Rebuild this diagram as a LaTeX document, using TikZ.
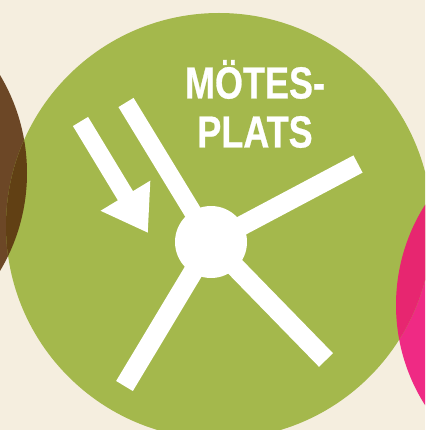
\documentclass[tikz,border=0pt]{standalone}
\usepackage{fontspec}
\setmainfont{Liberation Sans}
\newfontfamily\platsfont[FakeStretch=0.8, BoldFeatures={FakeBold=0.6}]{Liberation Sans}
\usepackage{xcolor}
\usetikzlibrary{arrows.meta}
\definecolor{paper}{HTML}{F5EEDF}
\definecolor{platsgreen}{HTML}{A4B84C}
\definecolor{brownlight}{HTML}{6C4726}
\definecolor{browndark}{HTML}{614014}
\definecolor{pinklight}{HTML}{EF2A84}
\definecolor{pinkdark}{HTML}{E72670}
\tikzset{
	disc/.style={
		circle,
		inner sep=0pt,
		minimum size=#1
	},
	bar/.style={
		white,
		line width=19.5pt
	},
	thinbar/.style={
		white,
		line width=17.7pt
	}
}

\begin{document}
\begin{tikzpicture}[x=1pt, y=-1pt]
		\useasboundingbox (0,0) rectangle (425,430);
		\clip (0,0) rectangle (425,430);
		\fill[paper] (0,0) rectangle (425,430);
		
		% Les disques
		\node[disc=382pt, fill=brownlight] (brown) at (-164,173) {};
		\node[disc=374pt, fill=pinklight] (pink) at (583,305) {};
		\node[disc=426pt, fill=platsgreen] (plats) at (219,226) {};
		
		% Recouvrements
		\begin{scope}
			\clip (219,226) circle (213);
			\node[disc=382pt, fill=browndark] (brownover) at (-164,173) {};
			\node[disc=374pt, fill=pinkdark] (pinkover) at (583,305) {};
		\end{scope}
		
		%--- Les branches ---
		\node[disc=72pt, fill=white] (hub) at (211,242) {};
		\coordinate (B1) at (126,102.5);
		\coordinate (B2) at (358,164);
		\coordinate (B3) at (124.5,386);
		\coordinate (B4) at (326,360);
		\draw[thinbar] (hub.center) -- (B1);
		\draw[bar] (hub.center) -- (B2);
		\draw[bar] (hub.center) -- (B3);
		\draw[bar] (hub.center) -- (B4);
		
		%--- La fleche ---
		\coordinate (A1) at (80.5,121.5);
		\coordinate (A2) at (148,233);
		\draw[thinbar, -{Triangle[length=43.6pt, width=55pt]}] (A1) -- (A2);
		
		% Le texte
		\node[white, font=\platsfont\fontsize{45}{49}\selectfont\bfseries, align=center, inner sep=0pt] (title) at (255,104) {MÖTES-\\PLATS};
	\end{tikzpicture}
\end{document}
